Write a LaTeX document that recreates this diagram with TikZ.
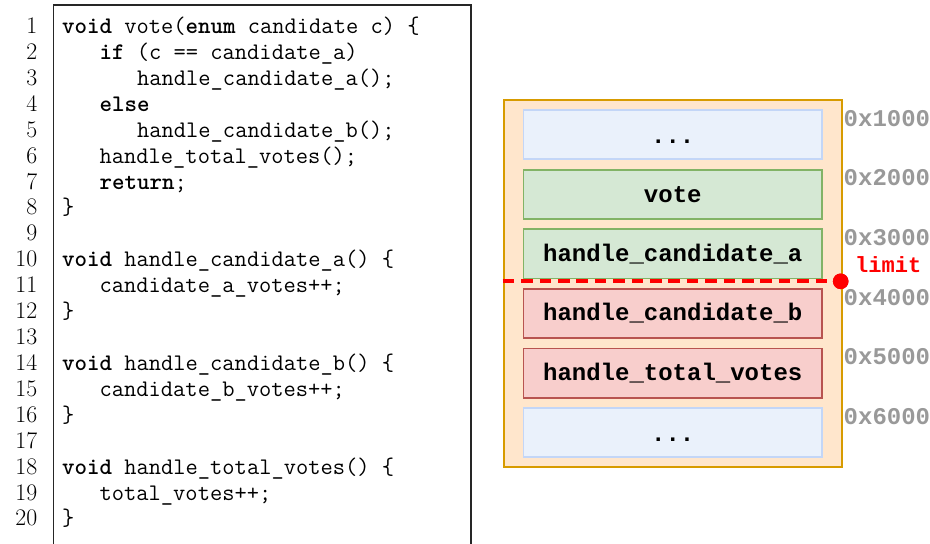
\documentclass[tikz,border=0pt]{standalone}
\usepackage{fontspec}
\newfontfamily\cour{Liberation Mono}
\definecolor{stackfill}{HTML}{FFE6CC}
\definecolor{stackdraw}{HTML}{D79B00}
\definecolor{bluefill}{HTML}{EAF1FB}
\definecolor{bluedraw}{HTML}{C3D6F7}
\definecolor{greenfill}{HTML}{D5E8D4}
\definecolor{greendraw}{HTML}{82B366}
\definecolor{redfill}{HTML}{F8CECC}
\definecolor{reddraw}{HTML}{B85450}
\definecolor{addrgray}{HTML}{999999}
\definecolor{limitred}{HTML}{FF0000}
\newcommand\kw[1]{\textbf{#1}}
\newcommand\dotsslot{\raisebox{-1.3pt}{\vphantom{h}...}}
\begin{document}
\begin{tikzpicture}[x=1pt,y=-1pt,
  num/.style={anchor=base east,inner sep=0pt,font=\fontsize{23.8}{26}\selectfont},
  code/.style={anchor=base west,inner sep=0pt,font=\fontsize{23.8}{26}\selectfont\ttfamily},
  frame/.style={draw=black!85,line width=1.2pt},
  stack/.style={draw=stackdraw,fill=stackfill,line width=1.8pt,minimum width=337.7pt,minimum height=366.4pt,inner sep=0pt},
  slot/.style={line width=1.8pt,minimum width=298.5pt,minimum height=49.3pt,inner sep=0pt,font=\fontsize{24}{24}\selectfont\cour\bfseries},
  freeslot/.style={slot,draw=bluedraw,fill=bluefill},
  okslot/.style={slot,draw=greendraw,fill=greenfill},
  badslot/.style={slot,draw=reddraw,fill=redfill},
  addr/.style={anchor=west,inner sep=0pt,text=addrgray,font=\fontsize{24}{24}\selectfont\cour\bfseries},
  limitlabel/.style={anchor=west,inner sep=0pt,text=limitred,font=\fontsize{22}{22}\selectfont\cour\bfseries},
  limitline/.style={draw=limitred,line width=4pt,dash pattern=on 11.7pt off 6.7pt}
]
\useasboundingbox (0,0) rectangle (930,544);

% code listing frame
\draw[frame] (53.3,560) -- (53.3,5) -- (471,5) -- (471,560);

% line numbers
\foreach \i in {1,...,20}
  \node[num] (n\i) at (37.5,{33.5+(\i-1)*25.92}) {\i};

% code lines
\node[code] (l1)  at (62.0,{33.5+0*25.92})  {\kw{void} vote(\kw{enum} candidate c) \{};
\node[code] (l2)  at (99.5,{33.5+1*25.92})  {\kw{if} (c == candidate\_a)};
\node[code] (l3)  at (137.0,{33.5+2*25.92}) {handle\_candidate\_a();};
\node[code] (l4)  at (99.5,{33.5+3*25.92})  {\kw{else}};
\node[code] (l5)  at (137.0,{33.5+4*25.92}) {handle\_candidate\_b();};
\node[code] (l6)  at (99.5,{33.5+5*25.92})  {handle\_total\_votes();};
\node[code] (l7)  at (99.5,{33.5+6*25.92})  {\kw{return};};
\node[code] (l8)  at (62.0,{33.5+7*25.92})  {\}};
\node[code] (l10) at (62.0,{33.5+9*25.92})  {\kw{void} handle\_candidate\_a() \{};
\node[code] (l11) at (99.5,{33.5+10*25.92}) {candidate\_a\_votes++;};
\node[code] (l12) at (62.0,{33.5+11*25.92}) {\}};
\node[code] (l14) at (62.0,{33.5+13*25.92}) {\kw{void} handle\_candidate\_b() \{};
\node[code] (l15) at (99.5,{33.5+14*25.92}) {candidate\_b\_votes++;};
\node[code] (l16) at (62.0,{33.5+15*25.92}) {\}};
\node[code] (l18) at (62.0,{33.5+17*25.92}) {\kw{void} handle\_total\_votes() \{};
\node[code] (l19) at (99.5,{33.5+18*25.92}) {total\_votes++;};
\node[code] (l20) at (62.0,{33.5+19*25.92}) {\}};

% stack
\node[stack] (stack) at (672.85,283.5) {};
\node[freeslot] (s1) at (672.75,{134.65+0*59.6}) {\dotsslot};
\node[okslot]   (s2) at (672.75,{134.65+1*59.6}) {vote};
\node[okslot]   (s3) at (672.75,{134.65+2*59.6}) {handle\_candidate\_a};
\node[badslot]  (s4) at (672.75,{134.65+3*59.6}) {handle\_candidate\_b};
\node[badslot]  (s5) at (672.75,{134.65+4*59.6}) {handle\_total\_votes};
\node[freeslot] (s6) at (672.75,{134.65+5*59.6}) {\dotsslot};

% addresses
\node[addr] (a1) at (843.5,{118.3+0*59.6}) {0x1000};
\node[addr] (a2) at (843.5,{118.3+1*59.6}) {0x2000};
\node[addr] (a3) at (843.5,{118.3+2*59.6}) {0x3000};
\node[addr] (a4) at (843.5,{118.3+3*59.6}) {0x4000};
\node[addr] (a5) at (843.5,{118.3+4*59.6}) {0x5000};
\node[addr] (a6) at (843.5,{118.3+5*59.6}) {0x6000};

% limit
\node[circle,fill=limitred,minimum size=15.6pt,inner sep=0pt] (dot) at (840.7,281.3) {};
\coordinate (lstart) at (502.7,281.3);
\draw[limitline] (lstart) -- (dot.center);
\fill[limitred] (dot.center) circle (7.8pt);
\node[limitlabel] (lim) at (855,265) {limit};
\end{tikzpicture}
\end{document}
